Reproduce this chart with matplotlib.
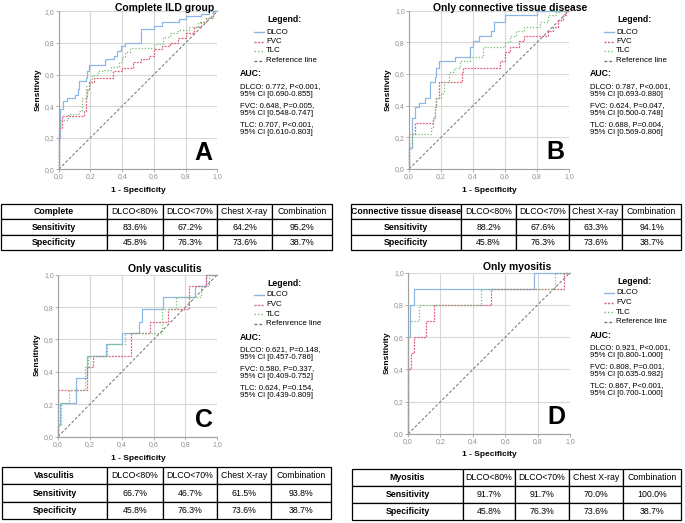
import matplotlib
matplotlib.use("Agg")
import matplotlib.pyplot as plt
from matplotlib.lines import Line2D

plt.rcParams['font.family'] = ['Liberation Sans', 'DejaVu Sans']

W, H = 685, 523

# ---- data ----
panel_titles = ["Complete ILD group", "Only connective tissue disease", "Only vasculitis", "Only myositis"]
panel_letters = ["A", "B", "C", "D"]
series_names = ["DLCO", "FVC", "TLC"]
ref_names = ["Reference line", "Reference line", "Refenrence line", "Reference line"]
ref_line = [0, 1]

# A - complete ILD group
dlco_a_fpr = [0, 0, 0.01, 0.03, 0.05, 0.1, 0.12, 0.13, 0.17, 0.18, 0.19, 0.29, 0.3, 0.35, 0.37, 0.39, 0.42, 0.52, 0.6, 0.65, 0.76, 0.8, 0.9, 0.95, 1.0]
dlco_a_tpr = [0, 0.2, 0.38, 0.43, 0.45, 0.47, 0.51, 0.56, 0.58, 0.62, 0.66, 0.69, 0.7, 0.72, 0.75, 0.78, 0.8, 0.89, 0.91, 0.93, 0.95, 0.97, 0.98, 1.0, 1.0]
fvc_a_fpr = [0, 0, 0.02, 0.16, 0.17, 0.18, 0.19, 0.22, 0.34, 0.4, 0.47, 0.52, 0.57, 0.6, 0.65, 0.7, 0.75, 0.8, 0.85, 0.9, 0.93, 0.97, 1.0]
fvc_a_tpr = [0, 0.26, 0.34, 0.37, 0.45, 0.5, 0.55, 0.58, 0.62, 0.64, 0.68, 0.7, 0.72, 0.76, 0.78, 0.8, 0.83, 0.86, 0.9, 0.93, 0.96, 1.0, 1.0]
tlc_a_fpr = [0, 0, 0.01, 0.06, 0.13, 0.15, 0.17, 0.2, 0.21, 0.25, 0.28, 0.33, 0.38, 0.4, 0.42, 0.45, 0.6, 0.66, 0.7, 0.75, 0.82, 0.88, 0.93, 0.97, 1.0]
tlc_a_tpr = [0, 0.26, 0.31, 0.35, 0.37, 0.45, 0.53, 0.57, 0.6, 0.62, 0.63, 0.65, 0.68, 0.71, 0.74, 0.77, 0.79, 0.84, 0.86, 0.88, 0.9, 0.93, 0.96, 1.0, 1.0]

# B - connective tissue disease
dlco_b_fpr = [0, 0, 0.02, 0.04, 0.06, 0.1, 0.13, 0.16, 0.17, 0.19, 0.29, 0.38, 0.4, 0.44, 0.51, 0.53, 0.6, 0.8, 1.0]
dlco_b_tpr = [0, 0.13, 0.32, 0.39, 0.42, 0.45, 0.55, 0.58, 0.64, 0.68, 0.71, 0.77, 0.81, 0.84, 0.87, 0.93, 0.97, 1.0, 1.0]
fvc_b_fpr = [0, 0, 0.04, 0.15, 0.16, 0.17, 0.19, 0.33, 0.34, 0.57, 0.6, 0.63, 0.69, 0.72, 0.87, 0.9, 0.93, 0.96, 0.98, 1.0]
fvc_b_tpr = [0, 0.22, 0.29, 0.32, 0.39, 0.45, 0.55, 0.61, 0.64, 0.68, 0.74, 0.77, 0.81, 0.84, 0.87, 0.9, 0.94, 0.97, 1.0, 1.0]
tlc_b_fpr = [0, 0, 0.02, 0.14, 0.15, 0.16, 0.17, 0.2, 0.22, 0.25, 0.28, 0.32, 0.38, 0.46, 0.6, 0.63, 0.67, 0.72, 0.82, 0.87, 0.92, 0.95, 1.0]
tlc_b_tpr = [0, 0.13, 0.22, 0.26, 0.32, 0.39, 0.45, 0.48, 0.55, 0.61, 0.64, 0.68, 0.71, 0.77, 0.8, 0.84, 0.87, 0.9, 0.93, 0.97, 0.99, 1.0, 1.0]

# C - vasculitis
dlco_c_fpr = [0, 0, 0.015, 0.11, 0.18, 0.3, 0.4, 0.51, 0.53, 0.66, 0.86, 0.93, 1.0]
dlco_c_tpr = [0, 0.07, 0.21, 0.36, 0.5, 0.57, 0.64, 0.71, 0.79, 0.86, 0.93, 1.0, 1.0]
fvc_c_fpr = [0, 0, 0.18, 0.22, 0.46, 0.58, 0.69, 0.82, 0.93, 1.0]
fvc_c_tpr = [0, 0.29, 0.43, 0.5, 0.64, 0.71, 0.79, 0.93, 1.0, 1.0]
tlc_c_fpr = [0, 0, 0.02, 0.07, 0.17, 0.19, 0.31, 0.42, 0.65, 0.74, 0.9, 0.95, 1.0]
tlc_c_tpr = [0, 0.07, 0.21, 0.29, 0.43, 0.5, 0.57, 0.64, 0.79, 0.86, 0.93, 1.0, 1.0]

# D - myositis
dlco_d_fpr = [0, 0, 0.01, 0.035, 0.77, 0.78, 1.0]
dlco_d_tpr = [0, 0.6, 0.8, 0.9, 0.9, 1.0, 1.0]
fvc_d_fpr = [0, 0, 0.02, 0.04, 0.11, 0.16, 0.51, 0.96, 1.0]
fvc_d_tpr = [0, 0.4, 0.5, 0.6, 0.7, 0.8, 0.9, 1.0, 1.0]
tlc_d_fpr = [0, 0, 0.07, 0.45, 0.91, 1.0]
tlc_d_tpr = [0, 0.7, 0.8, 0.9, 1.0, 1.0]

auc_texts = [
    ["DLCO: 0.772, P<0.001,\n95% CI [0.690-0.855]", "FVC: 0.648, P=0.005,\n95% CI [0.548-0.747]", "TLC: 0.707, P<0.001,\n95% CI [0.610-0.803]"],
    ["DLCO: 0.787, P<0.001,\n95% CI [0.693-0.880]", "FVC: 0.624, P=0.047,\n95% CI [0.500-0.748]", "TLC: 0.688, P=0.004,\n95% CI [0.569-0.806]"],
    ["DLCO: 0.621, P=0.148,\n95% CI [0.457-0.786]", "FVC: 0.580, P=0.337,\n95% CI [0.409-0.752]", "TLC: 0.624, P=0.154,\n95% CI [0.439-0.809]"],
    ["DLCO: 0.921, P<0.001,\n95% CI [0.800-1.000]", "FVC: 0.808, P=0.001,\n95% CI [0.635-0.982]", "TLC: 0.867, P<0.001,\n95% CI [0.700-1.000]"],
]

table_groups = ["Complete", "Connective tissue disease", "Vasculitis", "Myositis"]
table_cols = ["DLCO<80%", "DLCO<70%", "Chest X-ray", "Combination"]
sensitivity = [
    ["83.6%", "67.2%", "64.2%", "95.2%"],
    ["88.2%", "67.6%", "63.3%", "94.1%"],
    ["66.7%", "46.7%", "61.5%", "93.8%"],
    ["91.7%", "91.7%", "70.0%", "100.0%"],
]
specificity = ["45.8%", "76.3%", "73.6%", "38.7%"]

curves = [
    [(dlco_a_fpr, dlco_a_tpr), (fvc_a_fpr, fvc_a_tpr), (tlc_a_fpr, tlc_a_tpr)],
    [(dlco_b_fpr, dlco_b_tpr), (fvc_b_fpr, fvc_b_tpr), (tlc_b_fpr, tlc_b_tpr)],
    [(dlco_c_fpr, dlco_c_tpr), (fvc_c_fpr, fvc_c_tpr), (tlc_c_fpr, tlc_c_tpr)],
    [(dlco_d_fpr, dlco_d_tpr), (fvc_d_fpr, fvc_d_tpr), (tlc_d_fpr, tlc_d_tpr)],
]

# ---- styling / layout (pixels) ----
colors = ['#8db8e6', '#e0607f', '#74bf74']
styles = ['-', (0, (1.5, 1)), (0, (1, 1.5))]
ref_color = '#707070'

# axes box: left, top, right, bottom
axes_px = [(58.7, 11.3, 217.3, 169.3), (409, 10.7, 569, 169), (58, 274.7, 217.3, 436.7), (408, 272.7, 570, 434)]
title_px = [(165, 8), (510, 8), (165, 269), (517, 267)]
xlabel_px = [(138, 191), (489, 191), (138, 458), (489, 455)]
ylabel_px = [(38, 90), (388, 90), (37, 355), (387, 353)]
legend_px = [(240, 20), (590, 20), (240, 283), (590, 281)]
table_px = [
    ([1, 107, 163, 217, 272, 332], 204, 250),
    ([351, 461, 516, 569, 622, 681], 204, 250),
    ([2, 107, 163, 217, 271, 331], 467, 519),
    ([352, 463, 515, 569, 623, 681], 469, 520),
]


def fx(x):
    return x / W


def fy(y):
    return 1 - y / H


fig = plt.figure(figsize=(W / 100, H / 100), dpi=100)
ticks = [0, 0.2, 0.4, 0.6, 0.8, 1.0]
tick_labels = [f"{t:.1f}".replace('.', ',') for t in ticks]

for i in range(4):
    l, t, r, b = axes_px[i]
    ax = fig.add_axes([fx(l), fy(b), (r - l) / W, (b - t) / H])
    ax.set_xlim(0, 1)
    ax.set_ylim(0, 1)
    ax.set_xticks(ticks)
    ax.set_yticks(ticks)
    ax.set_xticklabels(tick_labels)
    ax.set_yticklabels(tick_labels)
    ax.tick_params(labelsize=5, colors='#909090', length=2, width=0.5, pad=1)
    ax.grid(True, color='#d8d8d8', linewidth=0.8)
    ax.set_axisbelow(True)
    for s in ['top', 'right']:
        ax.spines[s].set_visible(False)
    for s in ['left', 'bottom']:
        ax.spines[s].set_color('#a0a0a0')
        ax.spines[s].set_linewidth(0.8)

    ax.plot(ref_line, ref_line, color=ref_color, linestyle=(0, (3, 2)), linewidth=0.7)
    for j, (fpr, tpr) in enumerate(curves[i]):
        ax.step(fpr, tpr, where='post', color=colors[j], linestyle=styles[j], linewidth=0.9, clip_on=False)

    ax.text(0.97, 0.03, panel_letters[i], transform=ax.transAxes, ha='right', va='bottom',
            fontsize=18, fontweight='bold')

    fig.text(fx(title_px[i][0]), fy(title_px[i][1]), panel_titles[i], ha='center', va='center',
             fontsize=7.5, fontweight='bold')
    fig.text(fx(xlabel_px[i][0]), fy(xlabel_px[i][1]), "1 - Specificity", ha='center', va='center',
             fontsize=6, fontweight='bold')
    fig.text(fx(ylabel_px[i][0]), fy(ylabel_px[i][1]), "Sensitivity", ha='center', va='center',
             fontsize=6, fontweight='bold', rotation=90)

    # legend block
    lx, ly = legend_px[i]
    fig.text(fx(lx + 45), fy(ly), "Legend:", ha='center', va='center', fontsize=6.3, fontweight='bold')
    leg_styles = styles + [(0, (2, 1.5))]
    leg_colors = colors + [ref_color]
    leg_names = series_names + [ref_names[i]]
    for k in range(4):
        yy = ly + 12 + k * 9.5
        fig.add_artist(Line2D([fx(lx + 14), fx(lx + 24)], [fy(yy), fy(yy)], transform=fig.transFigure,
                              color=leg_colors[k], linestyle=leg_styles[k], linewidth=1.0))
        fig.text(fx(lx + 26), fy(yy), leg_names[k], ha='left', va='center', fontsize=5.7)
    fig.text(fx(lx), fy(ly + 54), "AUC:", ha='left', va='center', fontsize=6.3, fontweight='bold')
    for k in range(3):
        fig.text(fx(lx), fy(ly + 63 + k * 19), auc_texts[i][k], ha='left', va='top', fontsize=5.6,
                 linespacing=1.15)

    # table
    bounds, tt, tb = table_px[i]
    tax = fig.add_axes([fx(bounds[0]), fy(tb), (bounds[-1] - bounds[0]) / W, (tb - tt) / H])
    tax.axis('off')
    total = bounds[-1] - bounds[0]
    widths = [(bounds[k + 1] - bounds[k]) / total for k in range(5)]
    rows = [[table_groups[i]] + table_cols,
            ["Sensitivity"] + sensitivity[i],
            ["Specificity"] + specificity]
    tbl = tax.table(cellText=rows, colWidths=widths, bbox=[0, 0, 1, 1], cellLoc='center')
    tbl.auto_set_font_size(False)
    for (r, c), cell in tbl.get_celld().items():
        cell.set_linewidth(0.9)
        cell.set_edgecolor('black')
        cell.get_text().set_fontsize(6.3)
        if c == 0:
            cell.get_text().set_fontweight('bold')

fig.savefig("out.png", dpi=100)
